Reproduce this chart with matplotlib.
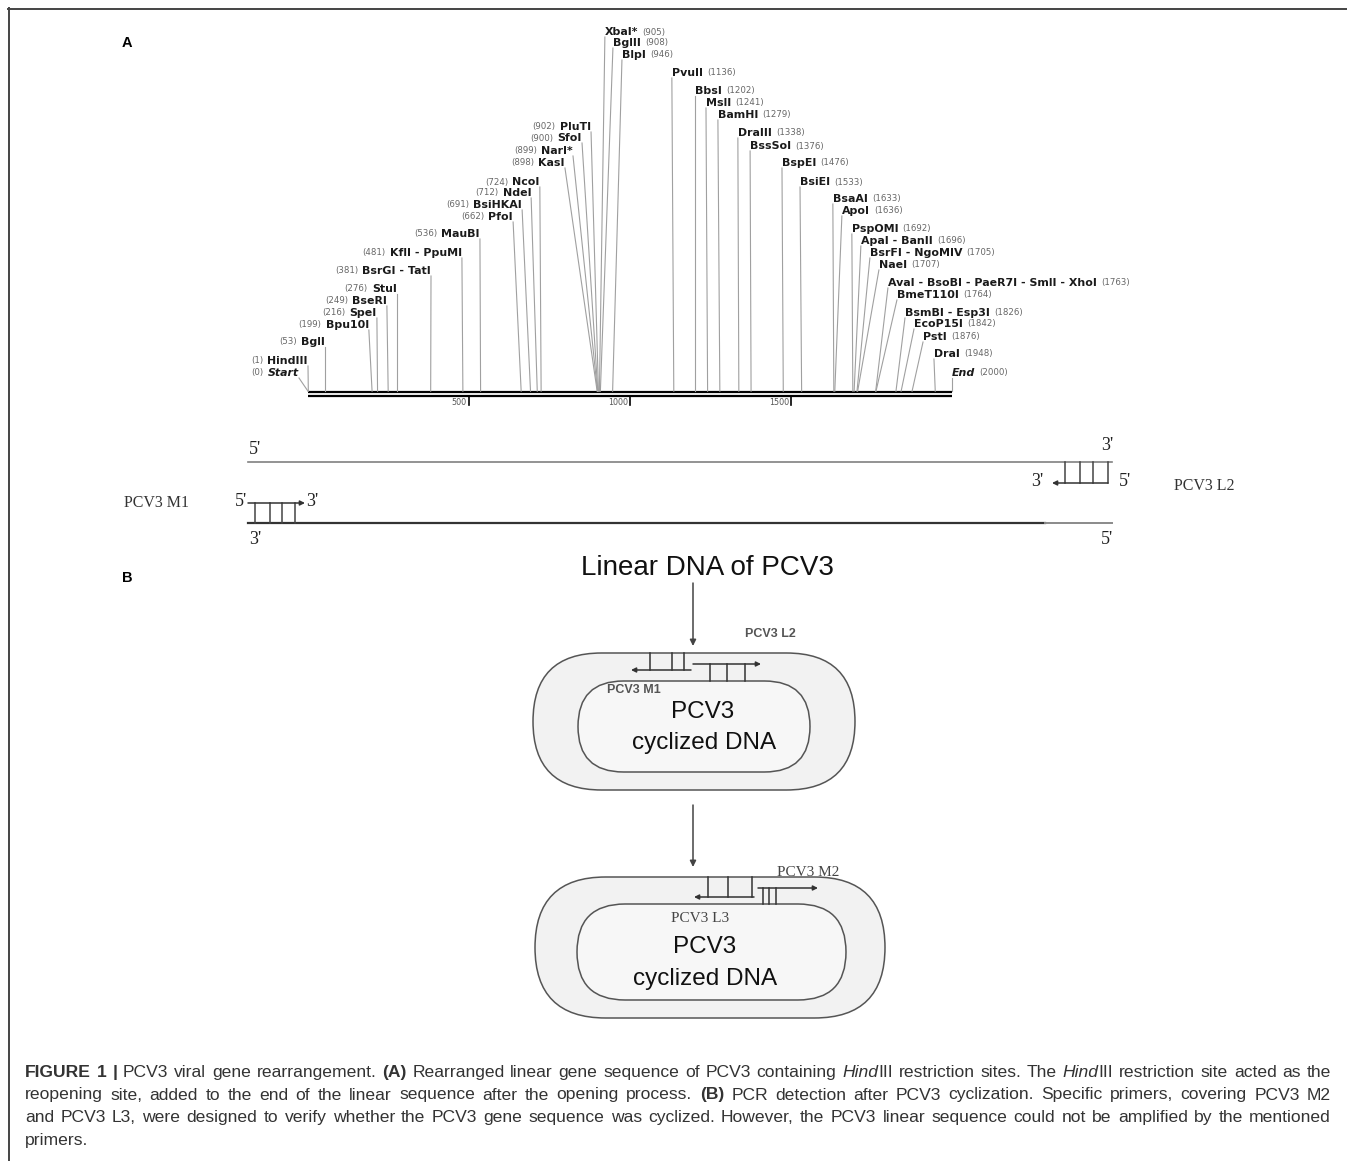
import re
import matplotlib
matplotlib.use("Agg")
import matplotlib.pyplot as plt
from matplotlib.patches import FancyBboxPatch

W, H = 1347, 1161

# restriction sites, left-labelled group (label text ends at the line)
left_names = ["Start", "HindIII", "BglI", "Bpu10I", "SpeI", "BseRI", "StuI",
              "BsrGI - TatI", "KflI - PpuMI", "MauBI", "PfoI", "BsiHKAI",
              "NdeI", "NcoI", "KasI", "NarI*", "SfoI", "PluTI"]
left_pos = [0, 1, 53, 199, 216, 249, 276, 381, 481, 536, 662, 691, 712, 724,
            898, 899, 900, 902]

# restriction sites, right-labelled group
right_names = ["XbaI*", "BglII", "BlpI", "PvuII", "BbsI", "MslI", "BamHI",
               "DraIII", "BssSoI", "BspEI", "BsiEI", "BsaAI", "ApoI", "PspOMI",
               "ApaI - BanII", "BsrFI - NgoMIV", "NaeI",
               "AvaI - BsoBI - PaeR7I - SmlI - XhoI", "BmeT110I",
               "BsmBI - Esp3I", "EcoP15I", "PstI", "DraI", "End"]
right_pos = [905, 908, 946, 1136, 1202, 1241, 1279, 1338, 1376, 1476, 1533,
             1633, 1636, 1692, 1696, 1705, 1707, 1763, 1764, 1826, 1842, 1876,
             1948, 2000]

seq_len = 2000
scale_ticks = [500, 1000, 1500]

# label layout (label row in pixels, label anchor in bp)
left_lab_y = [373, 361, 342, 325, 313, 301, 289, 271, 253, 234, 217, 205, 193,
              182, 163, 151, 138, 127]
left_lab_x = [-28, 0, 53, 189, 214, 245, 276, 382, 478, 534, 637, 665, 693,
              720, 798, 823, 851, 879]
right_lab_y = [32, 43, 55, 73, 91, 103, 115, 133, 146, 163, 182, 199, 211, 229,
               241, 253, 265, 283, 295, 313, 324, 337, 354, 373]
right_lab_x = [922, 947, 975, 1130, 1202, 1236, 1273, 1335, 1373, 1472, 1528,
               1630, 1658, 1689, 1717, 1745, 1773, 1801, 1829, 1854, 1882, 1910,
               1944, 2000]

caption = [
    "**FIGURE** **1** **|** PCV3 viral gene rearrangement. **(A)** Rearranged linear gene "
    "sequence of PCV3 containing _Hind_III restriction sites. The _Hind_III restriction "
    "site acted as the",
    "reopening site, added to the end of the linear sequence after the opening process. "
    "**(B)** PCR detection after PCV3 cyclization. Specific primers, covering PCV3 M2",
    "and PCV3 L3, were designed to verify whether the PCV3 gene sequence was cyclized. "
    "However, the PCV3 linear sequence could not be amplified by the mentioned",
    "primers.",
]

fig = plt.figure(figsize=(W / 100, H / 100), dpi=100)
ax = fig.add_axes([0, 0, 1, 1])
ax.set_xlim(0, W)
ax.set_ylim(H, 0)
ax.axis("off")

# frame (top and left)
ax.plot([8, W], [8.5, 8.5], color="#444444", lw=1.4)
ax.plot([8.5, 8.5], [8, H], color="#444444", lw=1.4)

ax.text(127, 43, "A", fontsize=10.5, fontweight="bold", ha="center", va="center",
        family="Liberation Sans")
ax.text(127, 578, "B", fontsize=10.5, fontweight="bold", ha="center", va="center",
        family="Liberation Sans")

# ---------- panel A: restriction map ----------
am = fig.add_axes([308 / W, 1 - 410 / H, 644 / W, 390 / H])
am.set_xlim(0, seq_len)
am.set_ylim(410, 20)
am.axis("off")

bb_top, bb_bot = 392, 396.5
am.plot([0, seq_len], [bb_top, bb_top], color="black", lw=1.6, clip_on=False,
        solid_capstyle="butt")
am.plot([0, seq_len], [bb_bot, bb_bot], color="black", lw=1.6, clip_on=False,
        solid_capstyle="butt")

for t in scale_ticks:
    am.plot([t, t], [bb_bot, 405], color="black", lw=1.2, clip_on=False)
    am.annotate(str(t), xy=(t, 403), xytext=(-1.5, 0), textcoords="offset points",
                ha="right", va="center", fontsize=5.8, color="#555555")

name_kw = dict(fontsize=7.9, fontweight="bold", color="#1a1a1a", va="center",
               family="DejaVu Sans")
pos_kw = dict(fontsize=6.2, color="#666666", va="center", family="DejaVu Sans")
line_kw = dict(color="#a0a0a0", lw=0.8, clip_on=False)

for name, p, ly, lx in zip(left_names, left_pos, left_lab_y, left_lab_x):
    style = "italic" if name in ("Start", "End") else "normal"
    am.plot([p, lx], [bb_top - 0.8, ly + 5], **line_kw)
    t = am.text(lx, ly, name, ha="right", style=style, **name_kw)
    am.annotate(f"({p})", xy=(0, 0.5), xycoords=t, xytext=(-3, 0),
                textcoords="offset points", ha="right", **pos_kw)

for name, p, ly, lx in zip(right_names, right_pos, right_lab_y, right_lab_x):
    style = "italic" if name in ("Start", "End") else "normal"
    am.plot([p, lx], [bb_top - 0.8, ly + 5], **line_kw)
    t = am.text(lx, ly, name, ha="left", style=style, **name_kw)
    am.annotate(f"({p})", xy=(1, 0.5), xycoords=t, xytext=(3, 0),
                textcoords="offset points", ha="left", **pos_kw)

# ---------- panel A: primers on the linear DNA ----------
serif = dict(family="Liberation Serif", color="#222222")
ax.plot([248, 1112], [462, 462], color="#808080", lw=1.2)
ax.plot([248, 1045], [523, 523], color="#333333", lw=1.6)
ax.plot([1045, 1112], [523, 523], color="#8a8a8a", lw=1.4)

ax.text(249, 449, "5'", fontsize=13, ha="left", va="center", **serif)
ax.text(249, 540, "3'", fontsize=13, ha="left", va="center", **serif)
ax.text(1113, 445, "3'", fontsize=13, ha="right", va="center", **serif)
ax.text(1113, 539, "5'", fontsize=13, ha="right", va="center", **serif)

arrow_kw = dict(arrowstyle="-|>", color="#333333", lw=1.1, mutation_scale=7,
                shrinkA=0, shrinkB=0)
# M1 (forward)
ax.annotate("", xy=(305, 503), xytext=(248, 503), arrowprops=arrow_kw)
for x in [255, 270, 282, 295]:
    ax.plot([x, x], [503, 523], color="#444444", lw=1.1)
ax.text(247, 501, "5'", fontsize=13, ha="right", va="center", **serif)
ax.text(306, 501, "3'", fontsize=13, ha="left", va="center", **serif)
ax.text(157, 503, "PCV3 M1", fontsize=11.5, ha="center", va="center",
        family="Liberation Serif", color="#333333")
# L2 (reverse)
ax.annotate("", xy=(1052, 483), xytext=(1108, 483), arrowprops=arrow_kw)
for x in [1065, 1080, 1093, 1108]:
    ax.plot([x, x], [462, 483], color="#444444", lw=1.1)
ax.text(1043, 482, "3'", fontsize=13, ha="right", va="center", **serif)
ax.text(1119, 482, "5'", fontsize=13, ha="left", va="center", **serif)
ax.text(1204, 486, "PCV3 L2", fontsize=11.5, ha="center", va="center",
        family="Liberation Serif", color="#333333")

# ---------- panel B ----------
sans = dict(family="Liberation Sans", color="#111111")
ax.text(707, 568, "Linear DNA of PCV3", fontsize=20, ha="center", va="center", **sans)
down_kw = dict(arrowstyle="-|>", color="#444444", lw=1.1, mutation_scale=9,
               shrinkA=0, shrinkB=0)
ax.annotate("", xy=(693, 646), xytext=(693, 583), arrowprops=down_kw)
ax.annotate("", xy=(693, 867), xytext=(693, 805), arrowprops=down_kw)


def stadium(x, y, w, h, fc):
    ax.add_patch(FancyBboxPatch((x, y), w, h,
                                boxstyle=f"round,pad=0,rounding_size={h / 2}",
                                fc=fc, ec="#555555", lw=1.1))


stadium(533, 653, 322, 137, "#f2f2f2")
stadium(578, 681, 232, 91, "#f7f7f7")
stadium(535, 877, 350, 141, "#f2f2f2")
stadium(577, 904, 269, 96, "#f7f7f7")

ax.text(703, 712, "PCV3", fontsize=17.5, ha="center", va="center", **sans)
ax.text(704, 743, "cyclized DNA", fontsize=17.5, ha="center", va="center", **sans)
ax.text(705, 947, "PCV3", fontsize=17.5, ha="center", va="center", **sans)
ax.text(705, 979, "cyclized DNA", fontsize=17.5, ha="center", va="center", **sans)

rung = dict(color="#333333", lw=1.1)
# first circle
for x in [650, 672, 684]:
    ax.plot([x, x], [653, 670], **rung)
ax.annotate("", xy=(631, 670), xytext=(691, 670), arrowprops=arrow_kw)
ax.annotate("", xy=(761, 664), xytext=(693, 664), arrowprops=arrow_kw)
for x in [710, 727, 745]:
    ax.plot([x, x], [664, 681], **rung)
ax.text(745, 634, "PCV3 L2", fontsize=9, ha="left", va="center",
        family="Liberation Sans", color="#555555", fontweight="bold")
ax.text(607, 690, "PCV3 M1", fontsize=9, ha="left", va="center",
        family="Liberation Sans", color="#555555", fontweight="bold")
# second circle
for x in [708, 728, 752]:
    ax.plot([x, x], [877, 897], **rung)
ax.annotate("", xy=(694, 897), xytext=(754, 897), arrowprops=arrow_kw)
ax.annotate("", xy=(818, 888), xytext=(758, 888), arrowprops=arrow_kw)
for x in [763, 769, 776]:
    ax.plot([x, x], [888, 904], **rung)
ax.text(777, 873, "PCV3 M2", fontsize=11, ha="left", va="center",
        family="Liberation Serif", color="#444444")
ax.text(671, 919, "PCV3 L3", fontsize=11, ha="left", va="center",
        family="Liberation Serif", color="#444444")

# ---------- caption (justified) ----------
renderer = fig.canvas.get_renderer()
x0, x1 = 25, 1331
baselines = [1077, 1099.5, 1122, 1144.5]


def word_runs(word):
    runs = []
    for seg in re.split(r"(\*\*.*?\*\*|_.*?_)", word):
        if not seg:
            continue
        if seg.startswith("**"):
            runs.append((seg[2:-2], dict(fontweight="bold")))
        elif seg.startswith("_"):
            runs.append((seg[1:-1], dict(style="italic")))
        else:
            runs.append((seg, {}))
    return runs


def measure(s, kw, extra=None):
    t = ax.text(0, 0, s, **kw, **(extra or {}))
    w = t.get_window_extent(renderer).width
    t.remove()
    return w


# fit the font so the first line is close to the column width
base_kw = dict(family="Liberation Sans", fontsize=10, color="#333333",
               va="baseline", ha="left")
nat = sum(measure(s, base_kw, e) for w in caption[0].split(" ") for s, e in word_runs(w))
nat += (len(caption[0].split(" ")) - 1) * (measure("a a", base_kw) - measure("aa", base_kw))
cap_kw = dict(base_kw, fontsize=10 * (x1 - x0) * 0.985 / nat)
space_w = measure("a a", cap_kw) - measure("aa", cap_kw)

for i, (line, yb) in enumerate(zip(caption, baselines)):
    words = []
    for w in line.split(" "):
        arts = []
        for s, extra in word_runs(w):
            t = ax.text(0, yb, s, **cap_kw, **extra)
            arts.append((t, t.get_window_extent(renderer).width))
        words.append(arts)
    widths = [sum(wd for _, wd in arts) for arts in words]
    last = i == len(caption) - 1
    gap = space_w if last else (x1 - x0 - sum(widths)) / (len(words) - 1)
    x = x0
    for arts, wsum in zip(words, widths):
        xx = x
        for t, wd in arts:
            t.set_x(xx)
            xx += wd
        x += wsum + gap

fig.savefig("out.png", dpi=100)
